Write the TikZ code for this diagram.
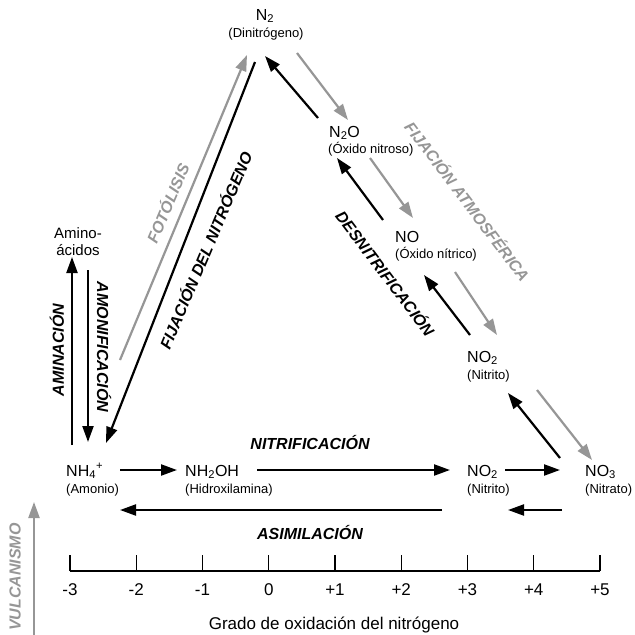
\documentclass[tikz,border=0pt]{standalone}
\usepackage{fontspec}
\setmainfont{Liberation Sans}
\usetikzlibrary{arrows.meta}
\definecolor{lgray}{RGB}{150,150,150}
\tikzset{
  arr/.style={line width=2.2pt, -{Triangle[length=16pt,width=11pt]}},
  blk/.style={arr, draw=black},
  gry/.style={arr, draw=lgray},
  fml/.style={font=\fontsize{16}{17}\selectfont, inner sep=0pt, anchor=base west},
  nm/.style={font=\fontsize{13}{14}\selectfont, inner sep=0pt, anchor=base west},
  proc/.style={font=\fontsize{16}{17}\selectfont\bfseries\itshape, inner sep=0pt},
  gproc/.style={proc, text=lgray},
  num/.style={font=\fontsize{17}{18}\selectfont, inner sep=0pt, anchor=base},
}
\begin{document}
\begin{tikzpicture}[x=1pt,y=-1pt]
\useasboundingbox (0,0) rectangle (635,635);
% compounds
\node[fml, anchor=base] (n2) at (265,20) {N\textsubscript{2}};
\node[nm, anchor=base] (n2n) at (266,37) {(Dinitrógeno)};
\node[fml] (n2o) at (329,137) {N\textsubscript{2}O};
\node[nm] (n2on) at (328,153) {(Óxido nitroso)};
\node[fml] (no) at (395,242) {NO};
\node[nm] (non) at (395,258) {(Óxido nítrico)};
\node[fml] (no2u) at (467,362) {NO\textsubscript{2}};
\node[nm] (no2un) at (467,379) {(Nitrito)};
\node[fml] (nh4) at (66,476) {NH\textsubscript{4}\textsuperscript{+}};
\node[nm] (nh4n) at (66,493) {(Amonio)};
\node[fml] (nh2oh) at (185,476) {NH\textsubscript{2}OH};
\node[nm] (nh2ohn) at (185,493) {(Hidroxilamina)};
\node[fml] (no2l) at (467,476) {NO\textsubscript{2}};
\node[nm] (no2ln) at (467,493) {(Nitrito)};
\node[fml] (no3) at (585,476) {NO\textsubscript{3}};
\node[nm] (no3n) at (585,493) {(Nitrato)};
\node[fml, anchor=base, font=\fontsize{15}{16}\selectfont] (amino) at (78,238) {Amino-};
\node[fml, anchor=base, font=\fontsize{15}{16}\selectfont] (acidos) at (78,255) {ácidos};
% arrow end points
\coordinate (a1s) at (120,360); \coordinate (a1e) at (247,55);
\coordinate (a2s) at (255,62);  \coordinate (a2e) at (106,443);
\coordinate (a3s) at (318,118); \coordinate (a3e) at (265,56);
\coordinate (a4s) at (297,53);  \coordinate (a4e) at (348,120);
\coordinate (a5s) at (383,220); \coordinate (a5e) at (337,158);
\coordinate (a6s) at (370,158); \coordinate (a6e) at (413,218);
\coordinate (a7s) at (470,335); \coordinate (a7e) at (424,275);
\coordinate (a8s) at (455,272); \coordinate (a8e) at (497,335);
\coordinate (a9s) at (560,458); \coordinate (a9e) at (508,393);
\coordinate (a10s) at (537,390); \coordinate (a10e) at (592,460);
\coordinate (a11s) at (72,445); \coordinate (a11e) at (72,257);
\coordinate (a12s) at (88,270); \coordinate (a12e) at (88,442);
\coordinate (a13s) at (120,470); \coordinate (a13e) at (177,470);
\coordinate (a14s) at (257,470); \coordinate (a14e) at (450,470);
\coordinate (a15s) at (505,470); \coordinate (a15e) at (560,470);
\coordinate (a16s) at (442,510); \coordinate (a16e) at (120,510);
\coordinate (a17s) at (562,510); \coordinate (a17e) at (508,510);
\coordinate (a18s) at (34,635); \coordinate (a18e) at (34,502);
% arrows
\draw[gry] (a1s) -- (a1e);
\draw[blk] (a2s) -- (a2e);
\draw[blk] (a3s) -- (a3e);
\draw[gry] (a4s) -- (a4e);
\draw[blk] (a5s) -- (a5e);
\draw[gry] (a6s) -- (a6e);
\draw[blk] (a7s) -- (a7e);
\draw[gry] (a8s) -- (a8e);
\draw[blk] (a9s) -- (a9e);
\draw[gry] (a10s) -- (a10e);
\draw[blk] (a11s) -- (a11e);
\draw[blk] (a12s) -- (a12e);
\draw[blk] (a13s) -- (a13e);
\draw[blk] (a14s) -- (a14e);
\draw[blk] (a15s) -- (a15e);
\draw[blk] (a16s) -- (a16e);
\draw[blk] (a17s) -- (a17e);
\draw[gry] (a18s) -- (a18e);
% process labels
\node[gproc, rotate=67] (fot) at (167,203) {FOTÓLISIS};
\node[proc, rotate=67] (fij) at (205,250) {FIJACIÓN DEL NITRÓGENO};
\node[proc, rotate=90] (amin) at (57,350) {AMINACIÓN};
\node[proc, rotate=-90] (amon) at (104,347) {AMONIFICACIÓN};
\node[proc, rotate=-53] (desn) at (386,273) {DESNITRIFICACIÓN};
\node[gproc, rotate=-53] (fatm) at (468,201) {FIJACIÓN ATMOSFÉRICA};
\node[proc] (nitr) at (310,443) {NITRIFICACIÓN};
\node[proc] (asim) at (310,533) {ASIMILACIÓN};
\node[gproc, rotate=90] (vulc) at (15,577) {VULCANISMO};
% axis
\coordinate (ax0) at (70,571); \coordinate (ax1) at (600,571);
\draw[line width=1.4pt] (ax0) -- (ax1);
\foreach \i/\l in {0/-3,1/-2,2/-1,3/0,4/+1,5/+2,6/+3,7/+4,8/+5}{
  \coordinate (t\i) at ({70+66.25*\i},571);
  \coordinate (u\i) at ({70+66.25*\i},555);
  \draw[line width=1.4pt] (t\i) -- (u\i);
  \node[num] (lab\i) at ({70+66.25*\i},595) {\l};
}
\node[num] (title) at (334,629) {Grado de oxidación del nitrógeno};
\end{tikzpicture}
\end{document}
